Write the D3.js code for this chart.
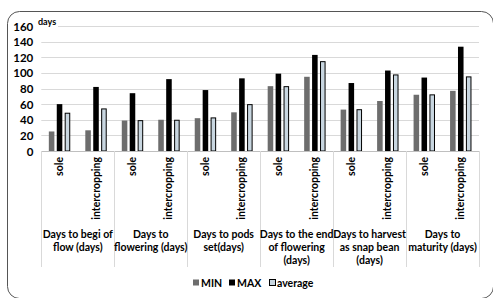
<!DOCTYPE html>
<html><head><meta charset="utf-8">
<script src="https://cdn.jsdelivr.net/npm/d3@7"></script>
<style>body{margin:0;background:#fff}svg{display:block}text{font-family:Lato,"Liberation Sans",sans-serif;font-weight:bold;fill:#000}</style>
</head><body><svg id="c" width="493" height="298"></svg>
<script>
const groups = [["Days to begi of","flow (days)"],["Days to","flowering (days)"],["Days to pods","set(days)"],["Days to the end","of flowering","(days)"],["Days to harvest","as snap bean","(days)"],["Days to","maturity (days)"]];
const subs = ["sole","intercropping"];
const seriesNames = ["MIN","MAX","average"];
const minVals = [25,26.5, 39,40, 42,49.5, 83,95, 53,64, 72,77];
const maxVals = [60,82, 74,92, 78,93, 99,123, 87,103, 94,133.5];
const avgVals = [49,54.5, 39.5,40, 43,60, 83,115, 53.5,98, 72.5,95.5];
const yTicks = [0,20,40,60,80,100,120,140,160];
const colors = ["#6d6d6d","#000000","#c8d6e0"];

const svg = d3.select("#c");
svg.append("rect").attr("x",7.5).attr("y",11.5).attr("width",486).attr("height",287).attr("rx",12)
  .attr("fill","none").attr("stroke","#555").attr("stroke-width",1);

const L=41.3, R=479, T=26, B=151;
const y = d3.scaleLinear().domain([0,160]).range([B,T]);
const xg = d3.scaleBand().domain(d3.range(groups.length)).range([L,R]).padding(0);
const xs = d3.scaleBand().domain(d3.range(subs.length)).range([0,xg.bandwidth()]).padding(0);
const xb = d3.scaleBand().domain(d3.range(3)).range([0,xs.bandwidth()]).paddingInner(0.3).paddingOuter(0.95);

// gridlines
svg.append("g").selectAll("line").data(yTicks.filter(d=>d>0)).join("line")
  .attr("x1",L).attr("x2",R).attr("y1",d=>Math.round(y(d))+0.5).attr("y2",d=>Math.round(y(d))+0.5)
  .attr("stroke","#d9d9d9").attr("stroke-width",1);

// y axis labels
const ya = d3.axisLeft(y).tickValues(yTicks).tickSize(0).tickPadding(8);
const yg = svg.append("g").attr("transform",`translate(${L},0)`).call(ya);
yg.select(".domain").remove();
yg.selectAll("text").attr("font-size",11.5).attr("font-family","Lato,sans-serif").attr("font-weight","bold").attr("dy","0.35em");

// days label
svg.append("rect").attr("x",37).attr("y",17).attr("width",21).attr("height",12).attr("fill","#fff");
svg.append("text").attr("x",38).attr("y",25).attr("font-size",9).text("days");

// bars
const all = [minVals,maxVals,avgVals];
const bars = [];
all.forEach((arr,si)=>arr.forEach((v,i)=>bars.push({g:Math.floor(i/2),s:i%2,si,v})));
svg.append("g").selectAll("rect").data(bars).join("rect")
  .attr("x",d=>xg(d.g)+xs(d.s)+xb(d.si)+(d.si===2?0.5:0))
  .attr("width",d=>xb.bandwidth()-(d.si===2?1:0))
  .attr("y",d=>y(d.v)+(d.si===2?0.5:0))
  .attr("height",d=>B-y(d.v)-(d.si===2?0.5:0))
  .attr("fill",d=>colors[d.si])
  .attr("stroke",d=>d.si===2?"#000":"none").attr("stroke-width",1);

// x axis line and dividers
svg.append("line").attr("x1",L).attr("x2",R).attr("y1",B+0.5).attr("y2",B+0.5).attr("stroke","#bfbfbf");
svg.append("g").selectAll("line").data(d3.range(groups.length+1)).join("line")
  .attr("x1",d=>Math.round(d<groups.length?xg(d):R)+0.5).attr("x2",d=>Math.round(d<groups.length?xg(d):R)+0.5)
  .attr("y1",B).attr("y2",267).attr("stroke","#d9d9d9");

// sub labels
const sl = [];
groups.forEach((g,gi)=>subs.forEach((s,si)=>sl.push({gi,si,s})));
svg.append("g").selectAll("text").data(sl).join("text")
  .attr("transform",d=>`translate(${xg(d.gi)+xs(d.si)+xs.bandwidth()/2+3.5},157) rotate(-90)`)
  .attr("text-anchor","end").attr("font-size",10.5).text(d=>d.s);

// group labels
const gl = svg.append("g").selectAll("text").data(groups).join("text")
  .attr("x",(d,i)=>xg(i)+xg.bandwidth()/2).attr("y",238).attr("text-anchor","middle").attr("font-size",10.5);
gl.selectAll("tspan").data(d=>d).join("tspan")
  .attr("x",function(){return this.parentNode.getAttribute("x");})
  .attr("dy",(d,i)=>i===0?0:13).text(d=>d);

// legend
const lg = svg.append("g");
const lx = [193,229,269];
seriesNames.forEach((n,i)=>{
  lg.append("rect").attr("x",lx[i]+(i===2?0.5:0)).attr("y",279.5).attr("width",6).attr("height",6)
    .attr("fill",colors[i]).attr("stroke",i===2?"#000":"none");
  lg.append("text").attr("x",lx[i]+8).attr("y",286.5).attr("font-size",10.5).text(n);
});
</script></body></html>
